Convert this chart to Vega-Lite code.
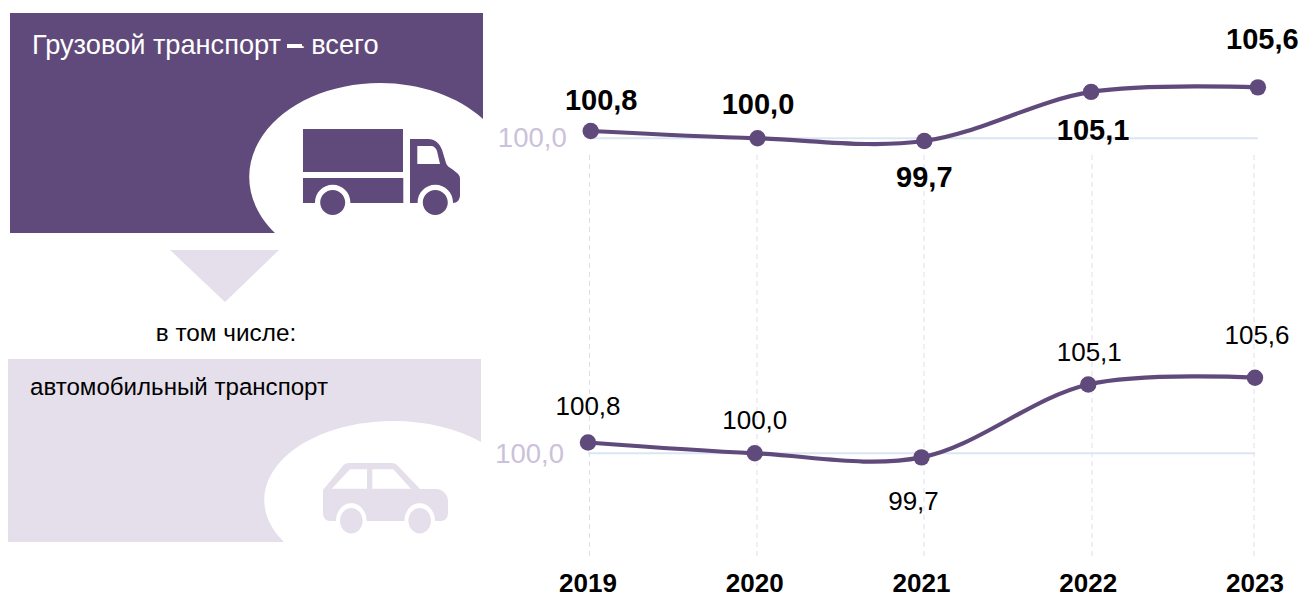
{"$schema":"https://vega.github.io/schema/vega-lite/v6.json","width":1302,"height":598,"padding":0,"autosize":{"type":"none"},"background":"white","config":{"view":{"stroke":null},"text":{"font":"Liberation Sans"}},
"datasets":{
"freight":[{"year":2019,"value":100.8,"label":"100,8"},{"year":2020,"value":100.0,"label":"100,0"},{"year":2021,"value":99.7,"label":"99,7"},{"year":2022,"value":105.1,"label":"105,1"},{"year":2023,"value":105.6,"label":"105,6"}],
"road":[{"year":2019,"value":100.8,"label":"100,8"},{"year":2020,"value":100.0,"label":"100,0"},{"year":2021,"value":99.7,"label":"99,7"},{"year":2022,"value":105.1,"label":"105,1"},{"year":2023,"value":105.6,"label":"105,6"}],
"captions":[{"caption":"Грузовой транспорт – всего"},{"caption":"в том числе:"},{"caption":"автомобильный транспорт"}]},
"layer":[
{"data":{"values":[{"anchor":"illustration"}]},
 "encoding":{"x":{"datum":0,"type":"quantitative","scale":{"domain":[0,1302],"nice":false,"zero":false},"axis":null},"y":{"datum":0,"type":"quantitative","scale":{"domain":[598,0],"nice":false,"zero":false},"axis":null}},
 "layer":[
 {"mark":{"type":"point","filled":true,"opacity":1,"strokeWidth":0,"size":4,"color":"#604a7b","shape":"M10 13H483V233H10Z"}},
 {"mark":{"type":"point","filled":true,"opacity":1,"strokeWidth":0,"size":4,"color":"#ffffff","shape":"M275 233A131 94 0 0 1 380 83A131 94 0 0 1 483 119V233Z"}},
 {"mark":{"type":"point","filled":true,"opacity":1,"strokeWidth":0,"size":4,"color":"#604a7b","shape":"M303 129H403V172H303ZM303 178H403.3V203H303ZM410 139H428C436 139 441 145 443 153L446 163C447 166 449 167 452 169L457 173C459 175 460 176 460 179V195C460 200 457 203 453 203H410Z"}},
 {"mark":{"type":"point","filled":true,"opacity":1,"strokeWidth":0,"size":4,"color":"#ffffff","shape":"M315 202.5a17.7 17.7 0 1 0 35.4 0a17.7 17.7 0 1 0 -35.4 0ZM417.6 202.5a17.7 17.7 0 1 0 35.4 0a17.7 17.7 0 1 0 -35.4 0ZM417.3 146H431C434 146 436 148 437 151L440 164H417.3Z"}},
 {"mark":{"type":"point","filled":true,"opacity":1,"strokeWidth":0,"size":4,"color":"#604a7b","shape":"M320.2 202.5a12.5 12.5 0 1 0 25 0a12.5 12.5 0 1 0 -25 0ZM422.8 202.5a12.5 12.5 0 1 0 25 0a12.5 12.5 0 1 0 -25 0Z"}},
 {"mark":{"type":"point","filled":true,"opacity":1,"strokeWidth":0,"size":4,"color":"#e5dfec","shape":"M170 250H279L225 302ZM8 359H481V542H8Z"}},
 {"mark":{"type":"point","filled":true,"opacity":1,"strokeWidth":0,"size":4,"color":"#ffffff","shape":"M284 542A129 79 0 0 1 393 421A129 79 0 0 1 481 442V542Z"}},
 {"mark":{"type":"point","filled":true,"opacity":1,"strokeWidth":0,"size":4,"color":"#e5dfec","shape":"M323 490L342 467C344 464 346 463 349 463H392C395 463 396 464 398 466L420 489H436C443 489 448 495 448 501V513C448 518 445 521 441 521H330C326 521 323 518 323 513Z"}},
 {"mark":{"type":"point","filled":true,"opacity":1,"strokeWidth":0,"size":4,"color":"#ffffff","shape":"M336 520.7a15.3 17.5 0 1 0 30.6 0a15.3 17.5 0 1 0 -30.6 0ZM404.4 520.7a15.3 17.5 0 1 0 30.6 0a15.3 17.5 0 1 0 -30.6 0ZM331.7 488.7L350 469.3H367V488.7ZM372.3 469.3H393.3L411 488.7H372.3Z"}},
 {"mark":{"type":"point","filled":true,"opacity":1,"strokeWidth":0,"size":4,"color":"#e5dfec","shape":"M340 520.7a11.3 12.7 0 1 0 22.6 0a11.3 12.7 0 1 0 -22.6 0ZM408.4 520.7a11.3 12.7 0 1 0 22.6 0a11.3 12.7 0 1 0 -22.6 0Z"}},
 {"data":{"name":"captions"},"transform":[{"filter":"datum.caption[0]=='Г'"}],"mark":{"type":"text","align":"left","baseline":"middle","fontSize":27.2,"color":"#ffffff"},"encoding":{"x":{"datum":32,"type":"quantitative"},"y":{"datum":46,"type":"quantitative"},"text":{"field":"caption"}}},
 {"mark":{"type":"point","filled":true,"opacity":1,"strokeWidth":0,"size":4,"color":"#ffffff","shape":"M287 44H302V48H287Z"}},
 {"data":{"name":"captions"},"transform":[{"filter":"datum.caption[0]=='в'"}],"mark":{"type":"text","align":"center","baseline":"middle","fontSize":24.3,"color":"#000000"},"encoding":{"x":{"datum":226,"type":"quantitative"},"y":{"datum":334,"type":"quantitative"},"text":{"field":"caption"}}},
 {"data":{"name":"captions"},"transform":[{"filter":"datum.caption[0]=='а'"}],"mark":{"type":"text","align":"left","baseline":"middle","fontSize":24.1,"color":"#000000"},"encoding":{"x":{"datum":30,"type":"quantitative"},"y":{"datum":388,"type":"quantitative"},"text":{"field":"caption"}}}
 ]},
{"data":{"name":"road"},"mark":{"type":"rule","color":"#e0dcec","strokeWidth":1,"strokeDash":[5,4]},
 "encoding":{"x":{"field":"year","type":"quantitative","scale":{"domain":[2015,2019,2020,2021,2022,2023,2024],"range":[0,589.5,757,924,1092,1254,1302],"nice":false,"zero":false},"axis":null},"y":{"datum":122.1,"type":"quantitative","scale":{"domain":[89.281,133.578],"nice":false,"zero":false},"axis":null},"y2":{"datum":92.17}}},
{"data":{"name":"freight"},
 "encoding":{"x":{"field":"year","type":"quantitative","scale":{"domain":[2015.4586,2023.2644],"nice":false,"zero":false},"axis":null},"y":{"field":"value","type":"quantitative","scale":{"domain":[49.484,115.198],"nice":false,"zero":false},"axis":null},"text":{"field":"label"}},
 "layer":[
 {"mark":{"type":"line","color":"#dce6f2","strokeWidth":2},"encoding":{"y":{"datum":100,"type":"quantitative"},"text":{"value":""}}},
 {"mark":{"type":"line","color":"#604a7b","strokeWidth":4.2,"interpolate":"catmull-rom"}},
 {"mark":{"type":"point","filled":true,"opacity":1,"color":"#604a7b","size":270}},
 {"transform":[{"filter":"datum.year==2019"}],"mark":{"type":"text","text":"100,0","align":"right","baseline":"middle","fontSize":27.5,"color":"#ccc1da","dx":-24,"dy":1},"encoding":{"y":{"datum":100,"type":"quantitative"},"text":{"value":"100,0"}}},
 {"transform":[{"filter":"datum.year==2019"}],"mark":{"type":"text","fontSize":29,"fontWeight":"bold","baseline":"middle","align":"center","color":"#000","dx":10.5,"dy":-30.5}},
 {"transform":[{"filter":"datum.year==2020"}],"mark":{"type":"text","fontSize":29,"fontWeight":"bold","baseline":"middle","align":"center","color":"#000","dx":0.5,"dy":-33.5}},
 {"transform":[{"filter":"datum.year==2021"}],"mark":{"type":"text","fontSize":29,"fontWeight":"bold","baseline":"middle","align":"center","color":"#000","dx":0,"dy":36.5}},
 {"transform":[{"filter":"datum.year==2022"}],"mark":{"type":"text","fontSize":29,"fontWeight":"bold","baseline":"middle","align":"center","color":"#000","dx":2,"dy":39}},
 {"transform":[{"filter":"datum.year==2023"}],"mark":{"type":"text","fontSize":29,"fontWeight":"bold","baseline":"middle","align":"center","color":"#000","dx":4.5,"dy":-47.5}}
 ]},
{"data":{"name":"road"},
 "encoding":{"x":{"field":"year","type":"quantitative","scale":{"domain":[2015.4738,2023.2819],"nice":false,"zero":false},"axis":null},"y":{"field":"value","type":"quantitative","scale":{"domain":[89.281,133.578],"nice":false,"zero":false},"axis":null},"text":{"field":"label"}},
 "layer":[
 {"mark":{"type":"line","color":"#dce6f2","strokeWidth":2},"encoding":{"y":{"datum":100,"type":"quantitative"},"text":{"value":""}}},
 {"mark":{"type":"line","color":"#604a7b","strokeWidth":4.2,"interpolate":"catmull-rom"}},
 {"mark":{"type":"point","filled":true,"opacity":1,"color":"#604a7b","size":270}},
 {"transform":[{"filter":"datum.year==2019"}],"mark":{"type":"text","align":"right","baseline":"middle","fontSize":27.5,"color":"#ccc1da","dx":-24,"dy":1.5},"encoding":{"y":{"datum":100,"type":"quantitative"},"text":{"value":"100,0"}}},
 {"transform":[{"filter":"datum.year==2019"}],"mark":{"type":"text","fontSize":26,"baseline":"middle","align":"center","color":"#000","dx":0,"dy":-35}},
 {"transform":[{"filter":"datum.year==2020"}],"mark":{"type":"text","fontSize":26,"baseline":"middle","align":"center","color":"#000","dx":0,"dy":-32.5}},
 {"transform":[{"filter":"datum.year==2021"}],"mark":{"type":"text","fontSize":26,"baseline":"middle","align":"center","color":"#000","dx":-8,"dy":44.5}},
 {"transform":[{"filter":"datum.year==2022"}],"mark":{"type":"text","fontSize":26,"baseline":"middle","align":"center","color":"#000","dx":1,"dy":-31}},
 {"transform":[{"filter":"datum.year==2023"}],"mark":{"type":"text","fontSize":26,"baseline":"middle","align":"center","color":"#000","dx":2,"dy":-41.5}},
 {"mark":{"type":"text","fontSize":26,"fontWeight":"bold","baseline":"middle","align":"center","color":"#000"},"encoding":{"y":{"datum":90.35,"type":"quantitative"},"text":{"field":"year","type":"quantitative","format":"d"}}}
 ]}
],
"resolve":{"scale":{"x":"independent","y":"independent"}}}
